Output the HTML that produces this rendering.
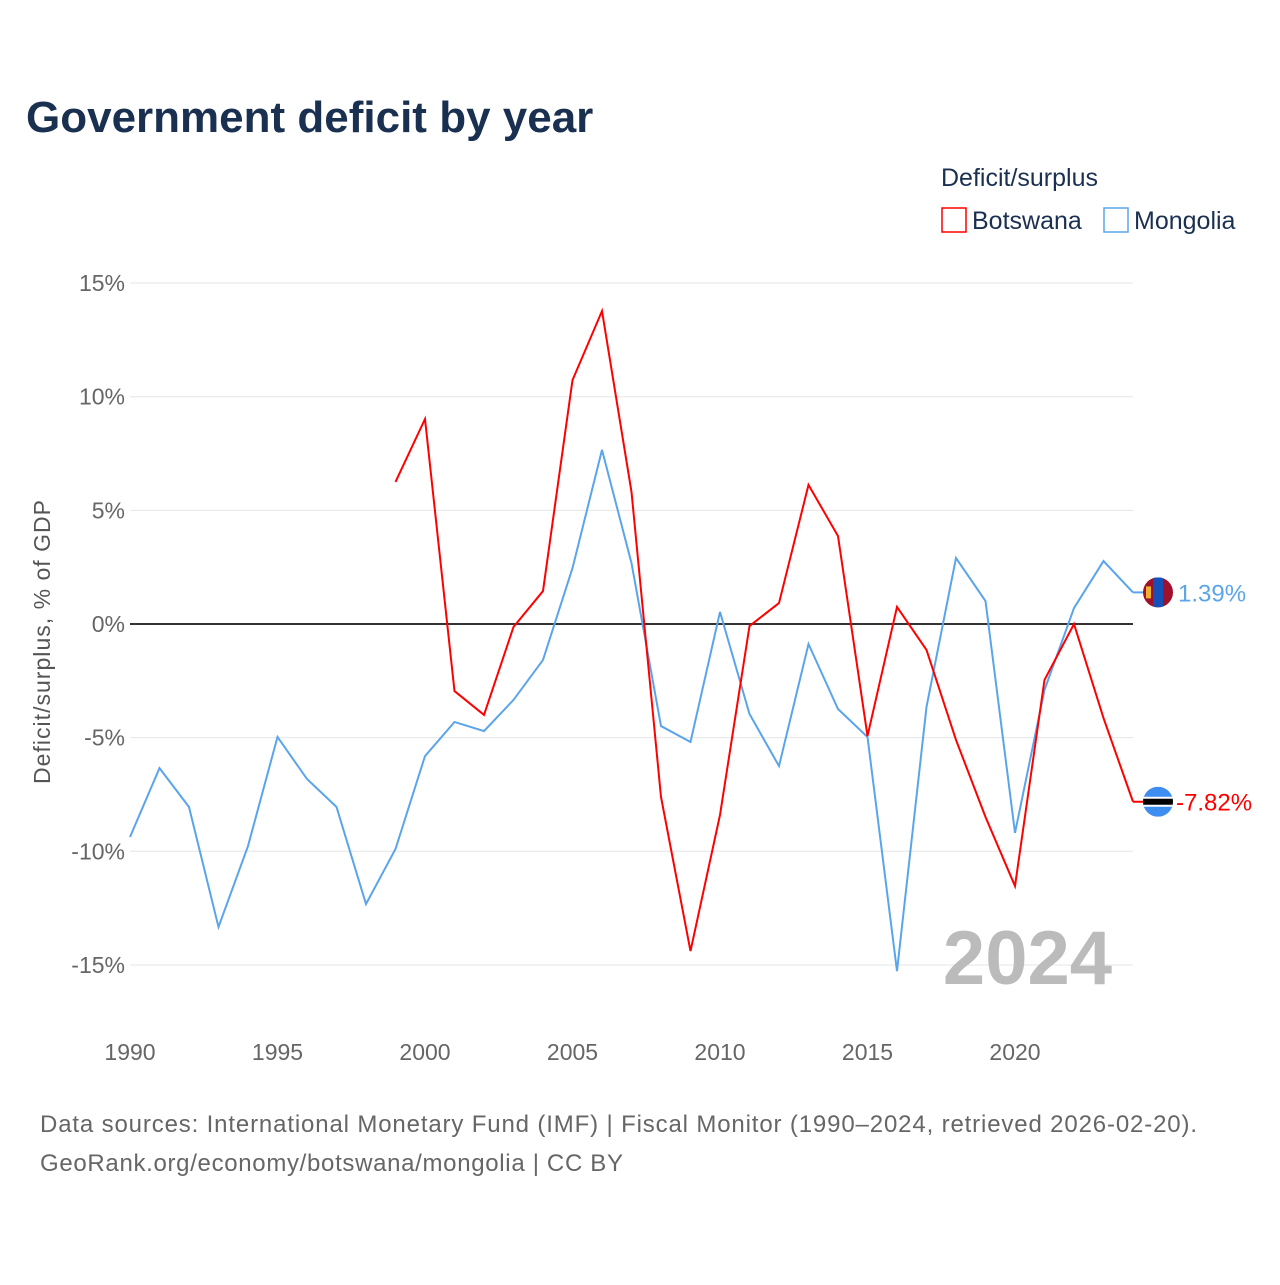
<!DOCTYPE html>
<html><head><meta charset="utf-8"><style>
body{margin:0;background:#fff;font-family:"Liberation Sans",sans-serif;}
svg text{font-family:"Liberation Sans",sans-serif;}
</style></head><body>
<svg id="c" width="1280" height="1280" xmlns="http://www.w3.org/2000/svg">
<rect width="1280" height="1280" fill="#fff"/>
<text x="26" y="132" font-size="44" font-weight="bold" fill="#1a3050">Government deficit by year</text>
<text x="941" y="186" font-size="25" fill="#1a3050">Deficit/surplus</text>
<g><rect x="942" y="208" width="24" height="24" fill="none" stroke="#f00" stroke-width="1.5"/><text x="972" y="229" font-size="25" fill="#1a3050">Botswana</text></g>
<g><rect x="1104" y="208" width="24" height="24" fill="none" stroke="#5aa5ea" stroke-width="1.5"/><text x="1134" y="229" font-size="25" fill="#1a3050">Mongolia</text></g>
<g id="grid"></g><g id="yt"></g><g id="xt"></g>
<text transform="translate(50,642) rotate(-90)" text-anchor="middle" font-size="23" fill="#555" textLength="284">Deficit/surplus, % of GDP</text>
<text x="1112" y="984" text-anchor="end" font-size="76" font-weight="bold" fill="#bbb">2024</text>
<g id="lines"></g>
<text x="40" y="1132" font-size="24" fill="#666" textLength="1157">Data sources: International Monetary Fund (IMF) | Fiscal Monitor (1990–2024, retrieved 2026-02-20).</text>
<text x="40" y="1171" font-size="24" fill="#666" textLength="583">GeoRank.org/economy/botswana/mongolia | CC BY</text>
</svg>
<script>
const years=[];for(let y=1990;y<=2024;y++)years.push(y);
const mongolia=[-9.37,-6.34,-8.05,-13.33,-9.77,-4.97,-6.82,-8.05,-12.32,-9.9,-5.81,-4.31,-4.71,-3.34,-1.58,2.46,7.66,2.68,-4.49,-5.19,0.53,-3.96,-6.25,-0.88,-3.74,-4.97,-15.27,-3.65,2.9,1.01,-9.19,-2.9,0.7,2.77,1.39];
const botswana=[null,null,null,null,null,null,null,null,null,6.25,9.02,-2.95,-4.0,-0.13,1.45,10.73,13.77,5.81,-7.61,-14.39,-8.4,-0.09,0.92,6.12,3.87,-4.93,0.75,-1.14,-5.1,-8.49,-11.53,-2.46,0.0,-4.14,-7.82];
const yTicks=[15,10,5,0,-5,-10,-15];
const xTicks=[1990,1995,2000,2005,2010,2015,2020];
const NS='http://www.w3.org/2000/svg';
const X=y=>130+(y-1990)*29.5, Y=v=>624-v*22.73;
function mk(t,a,p){const e=document.createElementNS(NS,t);for(const k in a)e.setAttribute(k,a[k]);p.appendChild(e);return e;}
const g=document.getElementById('grid'),yt=document.getElementById('yt'),xt=document.getElementById('xt'),L=document.getElementById('lines');
yTicks.forEach(v=>{
 const l=mk('line',{x1:130,x2:1133,y1:Y(v),y2:Y(v),stroke:v===0?'#333':'#e6e6e6','stroke-width':v===0?2:1},g);
 
 
 const t=mk('text',{x:125,y:Y(v)+8,'text-anchor':'end','font-size':23,fill:'#666'},yt);t.textContent=v+'%';
 
 
});
xTicks.forEach(v=>{
 const t=mk('text',{x:X(v),y:1060,'text-anchor':'middle','font-size':23,fill:'#666'},xt);t.textContent=v;
 
 
});
function line(vals,color,name){
 let d='';let pen=false;
 vals.forEach((v,i)=>{if(v===null){pen=false;return;}d+=(pen?'L':'M')+X(years[i])+','+Y(v);pen=true;});
 const p=mk('path',{d:d,fill:'none',stroke:color,'stroke-width':2},L);
 
 
}
line(mongolia,'#5aa5ea','mongolia');
line(botswana,'#f00','botswana');
const fx=1158;
const my=Y(mongolia[mongolia.length-1]);
const mf=mk('g',{},L);


mk('line',{x1:X(2024),x2:fx,y1:my,y2:my,stroke:'#5aa5ea','stroke-width':2},mf);
mk('clipPath',{id:'cm'},mf).appendChild(document.createElementNS(NS,'circle'));
const cm=document.querySelector('#cm circle');cm.setAttribute('cx',fx);cm.setAttribute('cy',my);cm.setAttribute('r',15);
const mg=mk('g',{'clip-path':'url(#cm)'},mf);
mk('rect',{x:fx-15,y:my-15,width:30,height:30,fill:'#a0102a'},mg);
mk('rect',{x:fx-5,y:my-15,width:10,height:30,fill:'#1550b8'},mg);
mk('rect',{x:fx-12,y:my-6,width:5,height:12,fill:'#f0b030'},mg);
const mt=mk('text',{x:1178,y:my+9,'font-size':24,fill:'#5aa5ea'},L);mt.textContent=mongolia[mongolia.length-1].toFixed(2)+'%';


const by=Y(botswana[botswana.length-1]);
const bf=mk('g',{},L);


mk('line',{x1:X(2024),x2:fx,y1:by,y2:by,stroke:'#f00','stroke-width':2},bf);
mk('clipPath',{id:'cb'},bf).appendChild(document.createElementNS(NS,'circle'));
const cb=document.querySelector('#cb circle');cb.setAttribute('cx',fx);cb.setAttribute('cy',by);cb.setAttribute('r',15);
const bg=mk('g',{'clip-path':'url(#cb)'},bf);
mk('rect',{x:fx-15,y:by-15,width:30,height:30,fill:'#3d8ef0'},bg);
mk('rect',{x:fx-15,y:by-5,width:30,height:10,fill:'#fff'},bg);
mk('rect',{x:fx-15,y:by-3,width:30,height:6,fill:'#000'},bg);
const bt=mk('text',{x:1176,y:by+9,'font-size':24,fill:'#f00'},L);bt.textContent=botswana[botswana.length-1].toFixed(2)+'%';


</script>
</body></html>
